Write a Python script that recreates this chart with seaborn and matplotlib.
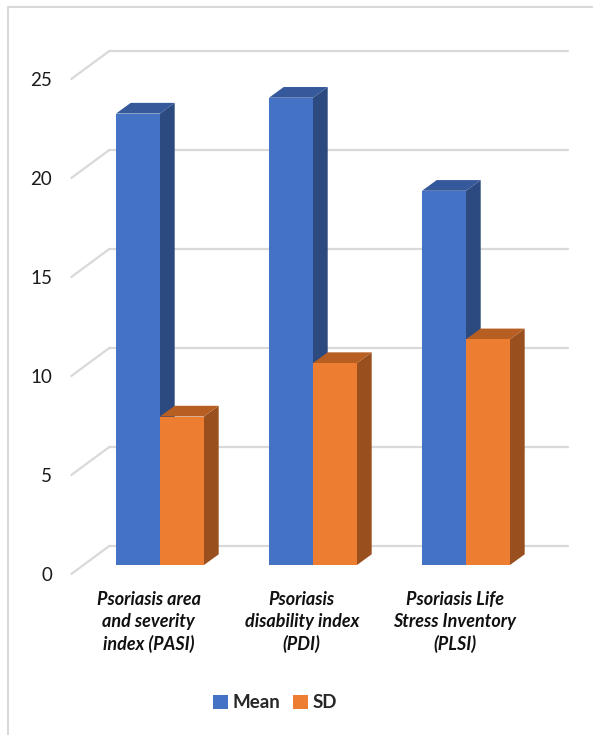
import matplotlib
matplotlib.use("Agg")
import matplotlib.pyplot as plt
import matplotlib.transforms as mtransforms
from matplotlib.patches import Polygon, Patch
from matplotlib.lines import Line2D
import seaborn as sns
import pandas as pd

categories = ["Psoriasis area\nand severity\nindex (PASI)",
              "Psoriasis\ndisability index\n(PDI)",
              "Psoriasis Life\nStress Inventory\n(PLSI)"]
series = ["Mean", "SD"]
mean_values = [22.8, 23.6, 18.9]
sd_values = [7.5, 10.2, 11.4]
yticks = [0, 5, 10, 15, 20, 25]

front_colors = {"Mean": "#4472C4", "SD": "#ED7D31"}
side_colors = {"Mean": "#2C4A7F", "SD": "#9A4F1F"}
top_colors = {"Mean": "#35599B", "SD": "#B75F22"}
grid_color = "#d9d9d9"

df = pd.DataFrame({
    "category": categories * 2,
    "series": ["Mean"] * 3 + ["SD"] * 3,
    "value": mean_values + sd_values,
})

sns.set_theme(style="white")
plt.rcParams["font.family"] = ["Lato", "DejaVu Sans"]

W, H, DPI = 593, 735, 100
fig = plt.figure(figsize=(W / DPI, H / DPI), dpi=DPI)

# axes in pixel layout (bar plane)
ax_left, ax_right = 83.5, 542.5
ax_bottom, ax_top = 565, 70
ax = fig.add_axes([ax_left / W, (H - ax_bottom) / H,
                   (ax_right - ax_left) / W, (ax_bottom - ax_top) / H])

sns.barplot(data=df, x="category", y="value", hue="series",
            palette=front_colors, width=0.575, saturation=1,
            ax=ax, legend=False, zorder=3, linewidth=0)

ax.set_xlim(-0.5, 2.5)
ax.set_ylim(0, 25)
for s in ax.spines.values():
    s.set_visible(False)
ax.grid(False)
ax.set_xlabel("")
ax.set_ylabel("")

px_x = (ax_right - ax_left) / 3.0
px_y = (ax_bottom - ax_top) / 25.0

# offsets (pixels) -> data units
bar_dx, bar_dy = 14.7 / px_x, 10.7 / px_y
back_dx, back_dy = 25.8 / px_x, 19.0 / px_y
front_dx, front_dy = -12.2 / px_x, -9.0 / px_y

x0, x1 = ax.get_xlim()
for v in yticks:
    # back wall gridline
    ax.add_line(Line2D([x0 + back_dx, x1 + back_dx], [v + back_dy, v + back_dy],
                       color=grid_color, lw=1.6, zorder=0, clip_on=False))
    # side wall diagonal
    ax.add_line(Line2D([x0 + front_dx, x0 + back_dx], [v + front_dy, v + back_dy],
                       color=grid_color, lw=1.6, zorder=0, clip_on=False))

# 3D faces
for ci, (cont, name) in enumerate(zip(ax.containers, series)):
    for p in cont.patches:
        bx = p.get_x()
        bw = p.get_width()
        h = p.get_height()
        xr = bx + bw
        side = Polygon([(xr, 0), (xr, h), (xr + bar_dx, h + bar_dy), (xr + bar_dx, bar_dy)],
                       closed=True, facecolor=side_colors[name], edgecolor="none",
                       zorder=1.5 + 0.1 * ci, clip_on=False)
        top = Polygon([(bx, h), (xr, h), (xr + bar_dx, h + bar_dy), (bx + bar_dx, h + bar_dy)],
                      closed=True, facecolor=top_colors[name], edgecolor="none",
                      zorder=1.5 + 0.1 * ci, clip_on=False)
        ax.add_patch(side)
        ax.add_patch(top)

# y tick labels
ax.set_yticks(yticks)
ax.set_yticklabels([str(t) for t in yticks], fontsize=13.5, color="#1a1a1a")
ax.tick_params(axis="y", length=0, pad=22.5)
for lab in ax.get_yticklabels():
    lab.set_transform(lab.get_transform() +
                      mtransforms.ScaledTranslation(0, -9 / DPI, fig.dpi_scale_trans))

# x tick labels
ax.set_xticks(range(len(categories)))
ax.set_xticklabels(categories, fontsize=13, fontweight="bold", fontstyle="italic",
                   linespacing=1.33, color="#111111")
ax.tick_params(axis="x", length=0, pad=19)
for lab in ax.get_xticklabels():
    lab.set_transform(lab.get_transform() +
                      mtransforms.ScaledTranslation(-11.3 / DPI, 0, fig.dpi_scale_trans))

# legend
handles = [Patch(facecolor=front_colors[s], edgecolor="none", label=s) for s in series]
fig.legend(handles=handles, loc="center", bbox_to_anchor=(275 / W, (H - 703) / H),
           ncol=2, frameon=False, handlelength=0.8, handleheight=0.8,
           handletextpad=0.25, columnspacing=0.7,
           prop={"family": ["Lato", "DejaVu Sans"], "weight": "bold", "size": 13.5})

# chart border (left and top visible)
fig.add_artist(Line2D([8 / W, 8 / W], [0, (H - 7) / H], color=grid_color, lw=1.5,
                      transform=fig.transFigure))
fig.add_artist(Line2D([8 / W, 1], [(H - 7) / H, (H - 7) / H], color=grid_color, lw=1.5,
                      transform=fig.transFigure))

fig.savefig("out.png", dpi=DPI)
